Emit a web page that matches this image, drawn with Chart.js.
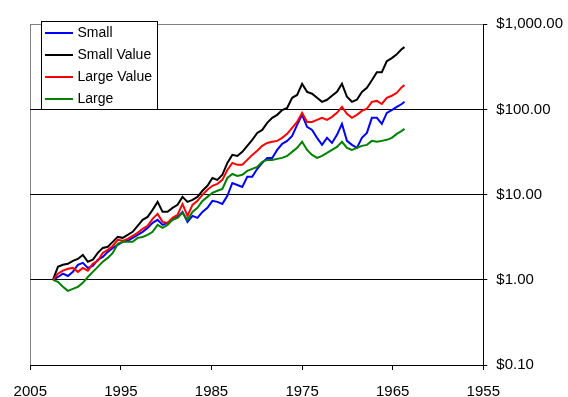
<!DOCTYPE html>
<html>
<head>
<meta charset="utf-8">
<script src="https://cdn.jsdelivr.net/npm/chart.js@4.4.1/dist/chart.umd.min.js"></script>
<style>
  html, body { margin: 0; padding: 0; background: #ffffff; }
  canvas { display: block; }
</style>
</head>
<body>
<canvas id="growth" width="568" height="397"></canvas>
<script>
// growth of $1 (x axis runs backwards)
const years = [2002.50, 2001.95, 2001.40, 2000.85, 2000.30, 1999.75, 1999.20, 1998.65, 1998.10, 1997.55,
    1997.00, 1996.45, 1995.90, 1995.35, 1994.80, 1994.25, 1993.70, 1993.15, 1992.60, 1992.05,
    1991.50, 1990.95, 1990.40, 1989.85, 1989.30, 1988.75, 1988.20, 1987.65, 1987.10, 1986.55,
    1986.00, 1985.45, 1984.90, 1984.35, 1983.80, 1983.25, 1982.70, 1982.15, 1981.60, 1981.05,
    1980.50, 1979.95, 1979.40, 1978.85, 1978.30, 1977.75, 1977.20, 1976.65, 1976.10, 1975.55,
    1975.00, 1974.45, 1973.90, 1973.35, 1972.80, 1972.25, 1971.70, 1971.15, 1970.60, 1970.05,
    1969.50, 1968.95, 1968.40, 1967.85, 1967.30, 1966.75, 1966.20, 1965.65, 1965.10, 1964.55,
    1964.00, 1963.70];

const small = [1.00, 1.08, 1.18, 1.11, 1.24, 1.50, 1.58, 1.38, 1.46, 1.72,
    1.86, 2.13, 2.37, 2.57, 2.79, 2.87, 3.11, 3.37, 3.66, 4.07,
    4.66, 5.06, 4.42, 4.66, 5.06, 5.48, 6.28, 4.79, 5.63, 5.34,
    6.28, 6.99, 8.45, 8.23, 7.79, 9.67, 13.7, 13.0, 12.3, 16.2,
    16.2, 20.1, 23.6, 27.0, 27.0, 33.5, 39.5, 42.8, 49.0, 66.0,
    86.5, 62.5, 57.6, 46.4, 38.4, 46.4, 40.5, 50.3, 67.8, 42.8,
    38.4, 35.4, 46.4, 53.1, 79.7, 79.7, 67.8, 91.3, 98.4, 107,
    116, 123];

const smallValue = [1.00, 1.42, 1.50, 1.54, 1.67, 1.76, 1.96, 1.63, 1.72, 2.07,
    2.37, 2.44, 2.79, 3.19, 3.11, 3.37, 3.66, 4.30, 5.06, 5.48,
    6.63, 8.23, 6.28, 6.28, 6.99, 7.59, 9.42, 8.23, 8.68, 9.42,
    11.1, 12.7, 15.7, 14.9, 17.1, 23.6, 29.3, 28.5, 31.8, 37.4,
    44.0, 53.1, 57.6, 69.6, 79.7, 86.5, 98.4, 104, 137, 148,
    200, 161, 153, 137, 123, 130, 145, 161, 200, 141,
    123, 130, 161, 180, 220, 274, 274, 369, 401, 446,
    511, 539];

const largeValue = [1.00, 1.18, 1.28, 1.35, 1.38, 1.24, 1.38, 1.28, 1.54, 1.67,
    2.07, 2.25, 2.50, 2.95, 2.87, 3.02, 3.28, 3.56, 3.97, 4.30,
    5.20, 5.95, 4.79, 4.66, 5.34, 5.79, 7.79, 5.63, 7.59, 8.45,
    9.94, 11.4, 12.7, 13.4, 14.9, 19.5, 23.6, 22.4, 22.4, 25.6,
    29.3, 32.7, 37.4, 40.5, 41.7, 42.8, 46.4, 51.7, 60.8, 71.5,
    91.3, 71.5, 71.5, 75.5, 79.7, 75.5, 81.9, 91.3, 107, 88.8,
    79.7, 86.5, 96.3, 102, 123, 126, 116, 137, 145, 157,
    183, 193];

const large = [1.00, 0.947, 0.828, 0.743, 0.784, 0.828, 0.922, 1.08, 1.24, 1.42,
    1.63, 1.81, 2.07, 2.64, 2.79, 2.79, 2.79, 3.11, 3.19, 3.37,
    3.66, 4.42, 4.07, 4.42, 5.06, 5.34, 6.11, 5.06, 6.28, 6.99,
    8.45, 9.42, 10.5, 11.1, 11.7, 15.7, 17.5, 16.6, 17.1, 19.0,
    20.1, 21.2, 24.3, 25.6, 25.6, 26.3, 27.0, 28.5, 31.8, 35.4,
    41.7, 33.5, 29.3, 27.0, 28.5, 30.9, 33.5, 36.4, 41.7, 35.4,
    33.5, 35.4, 37.4, 38.4, 42.8, 41.7, 42.8, 44.0, 46.4, 51.7,
    56.1, 59.2];

const seriesNames = ["Small", "Small Value", "Large Value", "Large"];
const xTicks = [2005, 1995, 1985, 1975, 1965, 1955];
const yTicks = [0.1, 1, 10, 100, 1000];

const FONT = "'Liberation Sans', Arial, sans-serif";

function pts(vals) {
    return years.map((yr, i) => ({ x: yr, y: vals[i] }));
}

function money(v) {
    return "$" + v.toLocaleString("en-US", { minimumFractionDigits: 2, maximumFractionDigits: 2 });
}

// boxed legend in the top left corner, like the excel one
const boxLegend = {
    id: "boxLegend",
    afterDraw(chart) {
        const ctx = chart.ctx;
        const left = 41.5, top = 21.5, w = 116, h = 88;
        ctx.save();
        ctx.fillStyle = "#ffffff";
        ctx.fillRect(left, top, w, h);
        ctx.strokeStyle = "#000000";
        ctx.lineWidth = 1;
        ctx.strokeRect(left, top, w, h);
        ctx.font = "14px " + FONT;
        ctx.textBaseline = "middle";
        chart.data.datasets.forEach((ds, i) => {
            const y = 33 + i * 22;
            ctx.strokeStyle = ds.borderColor;
            ctx.lineWidth = 2;
            ctx.beginPath();
            ctx.moveTo(45, y);
            ctx.lineTo(73, y);
            ctx.stroke();
            ctx.fillStyle = "#000000";
            ctx.fillText(ds.label, 77.5, y + 0.5);
        });
        ctx.restore();
    }
};

const colors = ["#0000ff", "#000000", "#ff0000", "#008000"];
const values = [small, smallValue, largeValue, large];

const config = {
    type: "line",
    data: {
        datasets: values.map((v, i) => ({
            label: seriesNames[i],
            data: pts(v),
            borderColor: colors[i],
            borderWidth: 2,
            pointRadius: 0,
            tension: 0,
            fill: false,
            order: 3 - i,
        })),
    },
    options: {
        responsive: false,
        animation: false,
        layout: { padding: { top: 24.3, left: 30.3, right: 0, bottom: 0 } },
        plugins: {
            legend: { display: false },
            tooltip: { enabled: false },
        },
        scales: {
            x: {
                type: "linear",
                reverse: true,
                min: 1955,
                max: 2005,
                afterBuildTicks: (s) => { s.ticks = xTicks.map((v) => ({ value: v })); },
                afterFit: (s) => { s.height = 32; },
                ticks: {
                    autoSkip: false,
                    maxRotation: 0,
                    padding: 13,
                    color: "#000000",
                    font: { family: FONT, size: 15 },
                    callback: (v) => String(v),
                },
                grid: {
                    color: (c) => (c.tick && c.tick.value === 2005 ? "#808080" : "rgba(0,0,0,0)"),
                    tickColor: "#000000",
                    tickLength: 5,
                },
                border: { color: "#000000", width: 1 },
            },
            y: {
                type: "logarithmic",
                position: "right",
                min: 0.1,
                max: 1000,
                afterBuildTicks: (s) => { s.ticks = yTicks.map((v) => ({ value: v })); },
                afterFit: (s) => { s.width = 84.7; },
                ticks: {
                    padding: 9,
                    color: "#000000",
                    font: { family: FONT, size: 15 },
                    callback: (v) => money(v),
                },
                grid: {
                    color: (c) => (c.tick && c.tick.value === 1000 ? "#808080" : "#000000"),
                    tickColor: "#000000",
                    tickLength: 4,
                },
                border: { color: "#000000", width: 1 },
            },
        },
    },
    plugins: [boxLegend],
};

new Chart(document.getElementById("growth"), config);
</script>
</body>
</html>
